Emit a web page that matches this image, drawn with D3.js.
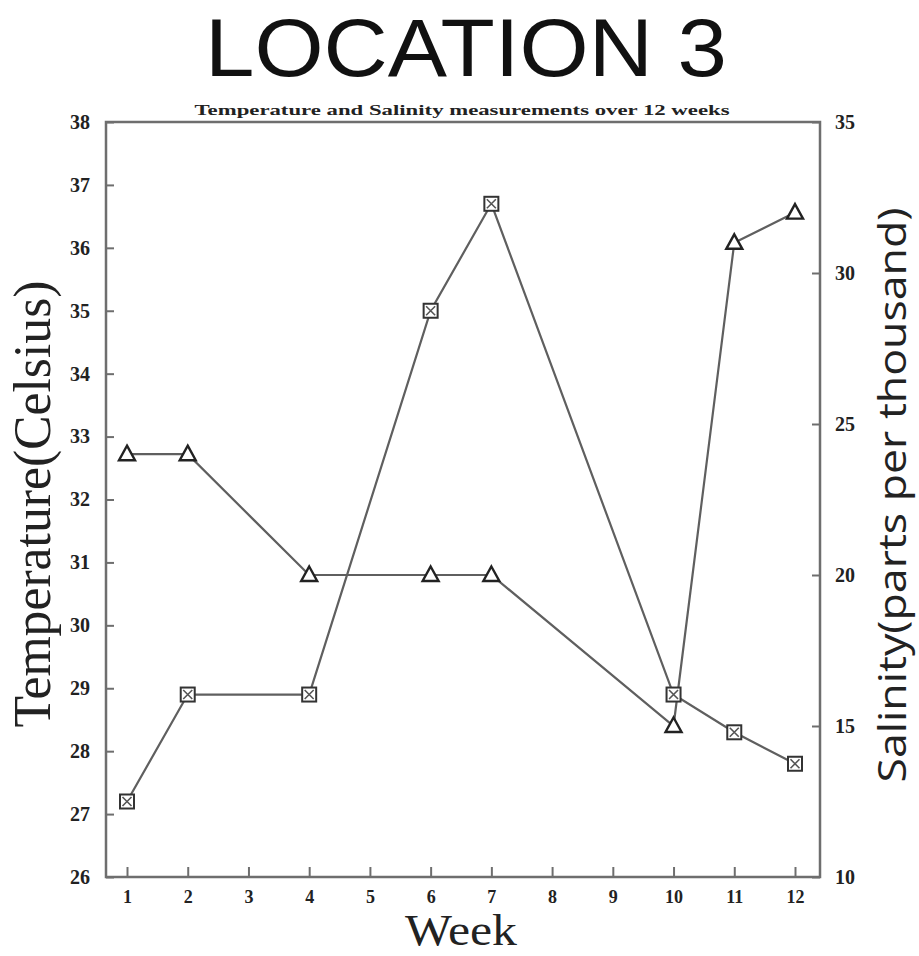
<!DOCTYPE html>
<html>
<head>
<meta charset="utf-8">
<script src="https://cdn.jsdelivr.net/npm/d3@7"></script>
<style>
  html, body { margin: 0; padding: 0; background: #fff; }
  svg { display: block; }
</style>
</head>
<body>
<svg id="chart" width="919" height="956"></svg>
<script>
// Weekly measurements at location 3
const weekTicks = [1, 2, 3, 4, 5, 6, 7, 8, 9, 10, 11, 12];
const weeks = [1, 2, 4, 6, 7, 10, 11, 12];
const temperature = [27.2, 28.9, 28.9, 35.0, 36.7, 28.9, 28.3, 27.8];   // Celsius, squares
const salinity = [24, 24, 20, 20, 20, 15, 31, 32];                      // ppt, triangles
const tempTicks = [26, 27, 28, 29, 30, 31, 32, 33, 34, 35, 36, 37, 38];
const salTicks = [10, 15, 20, 25, 30, 35];

const svg = d3.select("#chart");
const plotLeft = 106, plotRight = 820, plotTop = 122, plotBottom = 877;

const x = d3.scaleLinear().domain([1, 12]).range([127, 795]);
const yT = d3.scaleLinear().domain([26, 38]).range([plotBottom, plotTop]);
const yS = d3.scaleLinear().domain([10, 35]).range([plotBottom, plotTop]);

const axisColor = "#6e6e6e";
const ink = "#222";

// Title and subtitle
svg.append("text")
  .attr("x", 466).attr("y", 76)
  .attr("text-anchor", "middle")
  .attr("font-family", "Liberation Sans, Arial, sans-serif")
  .attr("font-size", 82)
  .attr("textLength", 522).attr("lengthAdjust", "spacingAndGlyphs")
  .attr("fill", "#111")
  .text("LOCATION 3");

svg.append("text")
  .attr("x", 462).attr("y", 115)
  .attr("text-anchor", "middle")
  .attr("font-family", "Liberation Serif, Times New Roman, serif")
  .attr("font-weight", "bold")
  .attr("font-size", 15)
  .attr("textLength", 535).attr("lengthAdjust", "spacingAndGlyphs")
  .attr("fill", ink)
  .text("Temperature and Salinity measurements over 12 weeks");

// Plot frame
svg.append("rect")
  .attr("x", plotLeft).attr("y", plotTop)
  .attr("width", plotRight - plotLeft).attr("height", plotBottom - plotTop)
  .attr("fill", "none")
  .attr("stroke", axisColor)
  .attr("stroke-width", 2.5);

function styleAxis(size) {
  return g => {
    g.select(".domain").remove();
    g.selectAll(".tick line").attr("stroke", axisColor).attr("stroke-width", 2);
    g.selectAll(".tick text")
      .attr("fill", ink)
      .attr("font-family", "Liberation Serif, Times New Roman, serif")
      .attr("font-weight", "bold")
      .attr("font-size", size);
  };
}

svg.append("g")
  .attr("transform", `translate(${plotLeft},0)`)
  .call(d3.axisLeft(yT).tickValues(tempTicks).tickSize(-8).tickPadding(16))
  .call(styleAxis(20));

svg.append("g")
  .attr("transform", `translate(${plotRight},0)`)
  .call(d3.axisRight(yS).tickValues(salTicks).tickSize(-8).tickPadding(15))
  .call(styleAxis(20));

svg.append("g")
  .attr("transform", `translate(0,${plotBottom})`)
  .call(d3.axisBottom(x).tickValues(weekTicks).tickFormat(d3.format("d")).tickSize(-10).tickPadding(13))
  .call(styleAxis(18));

// Axis titles
svg.append("text")
  .attr("transform", "translate(50,504) rotate(-90)")
  .attr("text-anchor", "middle")
  .attr("font-family", "Liberation Serif, Times New Roman, serif")
  .attr("font-size", 52)
  .attr("textLength", 447).attr("lengthAdjust", "spacingAndGlyphs")
  .attr("fill", ink)
  .text("Temperature(Celsius)");

svg.append("text")
  .attr("transform", "translate(906,495) rotate(-90)")
  .attr("text-anchor", "middle")
  .attr("font-family", "Open Sans, Noto Sans, sans-serif")
  .attr("font-size", 38)
  .attr("textLength", 575).attr("lengthAdjust", "spacingAndGlyphs")
  .attr("fill", ink)
  .text("Salinity(parts per thousand)");

svg.append("text")
  .attr("x", 461).attr("y", 945)
  .attr("text-anchor", "middle")
  .attr("font-family", "Liberation Serif, Times New Roman, serif")
  .attr("font-size", 45)
  .attr("textLength", 112).attr("lengthAdjust", "spacingAndGlyphs")
  .attr("fill", ink)
  .text("Week");

// Series lines
const tempPts = weeks.map((w, i) => [x(w), yT(temperature[i])]);
const salPts = weeks.map((w, i) => [x(w), yS(salinity[i])]);
const line = d3.line();

svg.append("path").attr("d", line(tempPts))
  .attr("fill", "none").attr("stroke", "#5f5f5f").attr("stroke-width", 2.2);
svg.append("path").attr("d", line(salPts))
  .attr("fill", "none").attr("stroke", "#5f5f5f").attr("stroke-width", 2.2);

// Square markers (temperature) with a cross inside
const sq = svg.append("g").selectAll("g").data(tempPts).join("g")
  .attr("transform", d => `translate(${d[0]},${d[1]})`);
sq.append("rect").attr("x", -7).attr("y", -7).attr("width", 14).attr("height", 14)
  .attr("fill", "#fff").attr("stroke", "#333").attr("stroke-width", 2);
sq.append("path").attr("d", "M-4.5,-4.5L4.5,4.5M4.5,-4.5L-4.5,4.5")
  .attr("stroke", "#555").attr("stroke-width", 1.6);

// Triangle markers (salinity)
svg.append("g").selectAll("path").data(salPts).join("path")
  .attr("transform", d => `translate(${d[0]},${d[1]})`)
  .attr("d", "M0,-8.5L8,6L-8,6Z")
  .attr("fill", "#fff").attr("stroke", "#222").attr("stroke-width", 2.4);
</script>
</body>
</html>
